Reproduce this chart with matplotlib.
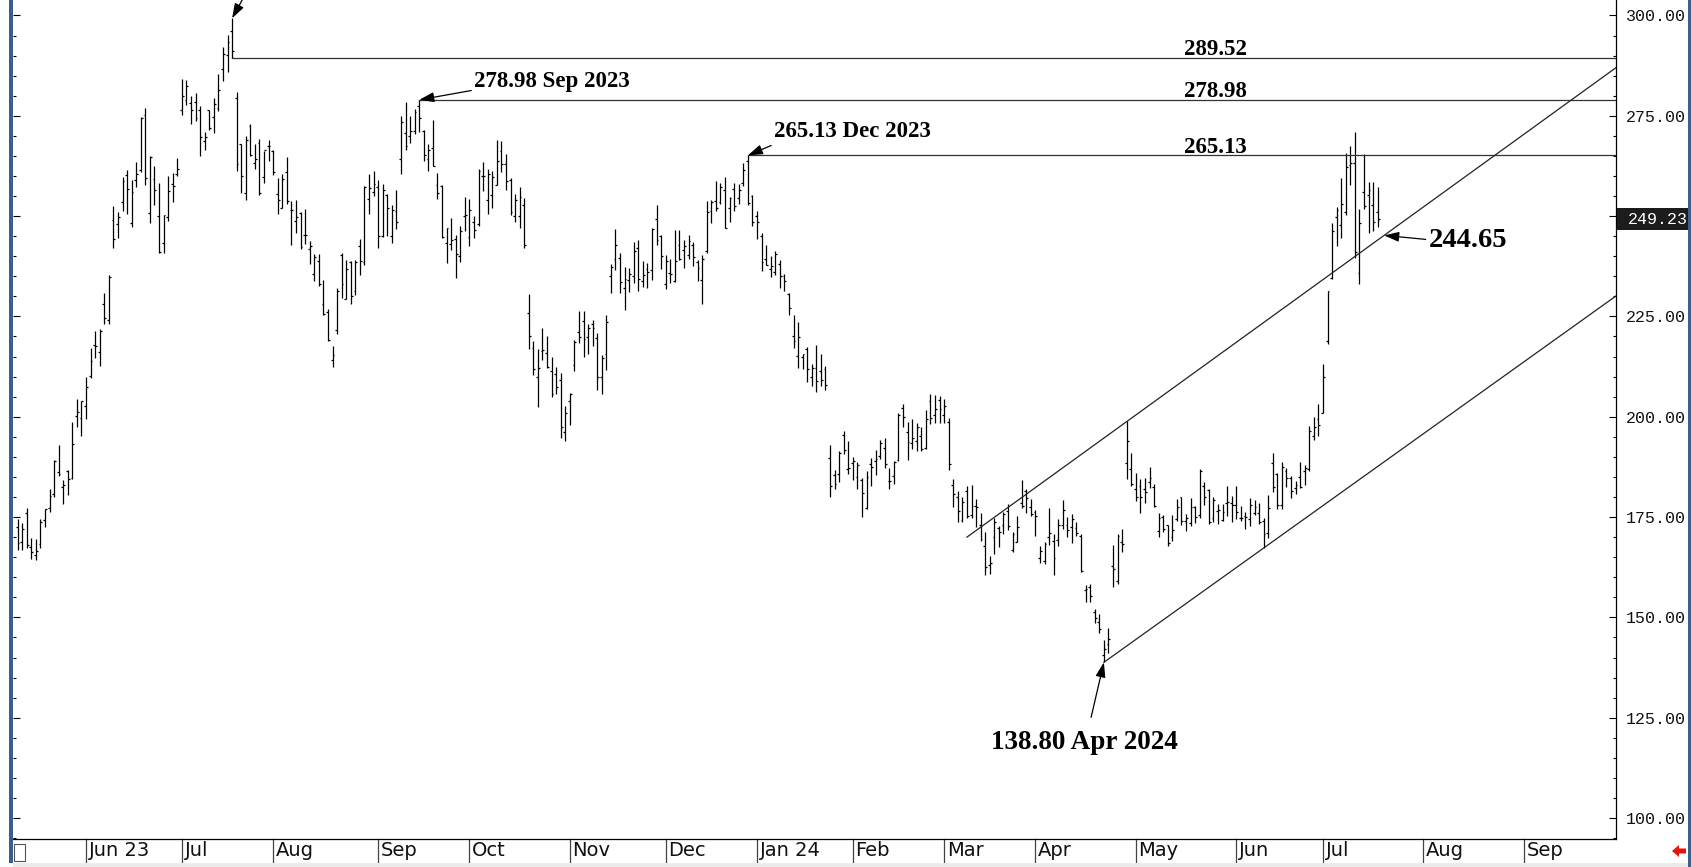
import numpy as np
import pandas as pd
import matplotlib
matplotlib.use('Agg')
import matplotlib.pyplot as plt
from matplotlib.collections import LineCollection
from matplotlib.patches import Rectangle, Polygon
from matplotlib.ticker import MultipleLocator, FormatStrFormatter

# daily bars, 2023-05-10 .. 2024-07-18 (one line per month)
opens = [
    172.55,168.70,176.07,167.66,165.65,168.41,174.22,177.17,180.70,186.20,182.56,186.54,184.62,200.10,199.78,
    202.59,210.15,217.80,216.14,228.00,224.22,249.07,247.94,253.51,260.17,248.40,258.92,261.50,275.13,250.77,259.29,250.07,243.24,249.70,258.03,260.60,
    276.49,278.82,278.09,278.43,276.47,268.65,276.33,274.59,277.01,286.63,290.15,296.04,279.56,268.00,255.85,272.38,263.25,268.31,259.86,267.48,
    266.26,255.57,252.04,260.97,251.45,248.84,250.87,245.40,241.77,235.70,238.73,228.02,226.06,214.12,221.55,240.25,229.34,238.66,231.31,242.58,238.58,254.20,255.98,
    257.26,245.00,255.14,245.07,251.22,264.27,270.76,270.07,271.32,277.55,271.16,264.35,267.04,257.85,257.40,243.38,242.98,244.26,240.02,250.00,
    244.81,248.61,248.14,260.00,253.98,255.31,257.75,266.20,262.92,258.90,250.05,250.10,252.70,225.95,217.01,210.00,216.50,215.88,211.32,210.60,209.28,196.12,
    204.04,212.97,221.15,223.98,219.98,223.15,219.75,210.03,215.60,235.03,239.29,239.49,232.00,234.04,235.04,242.04,233.75,236.89,236.68,249.21,245.14,
    233.14,235.75,233.87,242.92,241.55,240.27,242.74,238.55,234.19,241.22,251.21,253.78,253.48,256.41,251.90,256.76,254.49,258.35,263.66,255.10,
    250.08,244.98,239.25,236.86,236.14,238.11,235.10,230.57,220.08,215.10,214.86,216.88,209.99,212.26,211.30,211.88,189.70,185.50,185.63,195.33,187.00,
    188.50,185.04,184.26,177.21,188.18,189.00,190.18,192.11,183.99,185.30,189.16,202.06,196.13,193.36,194.00,195.31,192.29,204.04,200.42,204.18,
    200.52,198.73,183.05,179.99,174.35,181.50,175.45,177.77,173.05,167.77,163.16,170.02,172.36,173.00,176.39,166.69,168.76,178.58,181.41,177.45,
    176.17,164.75,164.02,170.07,169.08,169.34,172.91,173.04,172.55,172.34,170.24,156.74,157.64,151.25,148.97,140.56,143.33,162.84,158.96,168.85,188.42,186.98,
    182.00,182.86,182.10,183.80,182.40,171.59,175.01,173.05,170.00,174.50,179.90,174.10,173.55,177.56,175.51,182.85,181.80,174.84,176.40,174.19,178.58,178.50,
    178.13,174.78,175.35,174.60,176.13,176.06,173.92,171.12,188.39,185.80,177.92,186.56,184.68,182.30,184.97,186.54,186.92,195.17,199.55,
    201.02,218.89,234.56,249.81,247.71,251.00,262.80,263.30,235.80,255.97,255.31,252.73,251.09,
]
highs = [
    174.43,173.57,177.38,169.76,169.52,174.50,177.06,181.95,189.32,192.96,184.22,186.78,198.60,204.48,203.95,
    209.80,217.25,221.29,221.91,230.83,235.23,252.42,250.97,259.68,261.57,258.95,263.60,274.75,276.99,265.00,262.45,258.37,250.39,259.88,260.74,264.45,
    284.25,283.85,279.97,280.78,277.52,270.90,276.52,279.45,285.30,292.23,295.26,299.29,280.93,268.00,269.85,272.90,268.04,269.13,266.25,269.08,
    266.47,259.52,260.49,264.77,253.65,254.03,251.10,251.80,243.79,240.66,240.50,233.97,226.74,217.58,232.13,240.82,238.98,238.92,239.00,244.38,257.48,260.51,261.18,
    259.08,258.00,255.39,252.81,256.52,274.85,278.39,274.98,276.71,278.98,271.44,267.85,273.93,260.86,257.79,247.10,249.55,245.33,247.55,254.77,
    254.28,250.02,261.86,263.60,261.65,261.36,268.94,268.60,265.41,259.60,255.40,257.18,254.63,230.61,218.86,216.98,222.05,220.10,214.80,212.41,210.88,202.80,
    205.99,219.20,226.37,226.32,223.12,224.15,220.80,215.38,225.40,238.14,246.70,240.88,237.39,237.10,243.62,244.01,238.75,238.33,247.00,252.75,245.22,
    240.19,239.37,246.66,246.57,244.08,245.27,243.44,238.99,240.30,253.88,254.13,258.74,258.34,259.84,254.80,258.22,257.97,263.34,265.13,255.19,
    251.25,245.68,242.70,240.12,241.25,238.96,235.50,230.93,225.34,223.49,215.67,217.45,213.19,217.80,215.65,212.73,193.00,186.78,191.48,196.36,193.97,
    189.88,188.69,184.68,186.49,189.79,191.62,194.12,194.73,187.26,188.89,200.88,203.17,198.60,199.44,198.32,197.57,201.78,205.60,205.30,205.28,
    204.52,199.75,184.59,181.58,180.04,182.73,182.87,179.43,176.05,171.17,165.18,174.72,172.82,176.25,178.18,171.20,175.24,184.25,181.91,179.57,
    176.75,167.69,168.82,177.19,170.86,174.50,179.22,174.93,175.88,173.81,170.69,158.19,158.33,152.20,150.94,144.44,147.26,167.97,170.88,172.12,198.87,190.95,
    185.86,184.60,184.78,187.56,183.26,176.06,175.62,173.06,175.40,179.49,180.00,175.79,179.63,177.75,186.88,183.80,181.90,180.08,178.25,178.15,182.67,180.32,
    182.64,177.76,176.15,179.73,179.35,178.57,174.75,180.55,191.08,186.00,188.81,187.20,185.21,183.95,188.80,188.00,197.76,199.84,203.20,
    213.23,231.30,248.35,252.37,259.44,265.61,267.59,271.00,251.84,265.60,258.62,258.47,257.14,
]
lows = [
    166.68,166.79,167.23,164.55,164.35,167.19,172.45,176.31,180.11,185.26,178.22,180.58,184.53,197.53,195.12,
    199.37,209.75,214.52,212.53,223.20,223.01,242.02,244.59,251.34,250.50,247.29,257.21,261.07,257.78,248.25,252.80,240.70,240.85,248.89,253.61,259.89,
    275.11,277.60,272.88,273.77,265.10,266.37,271.46,270.60,276.31,283.57,286.01,289.52,261.20,255.80,254.12,265.00,261.75,255.30,258.34,263.78,
    260.25,250.49,252.00,253.11,242.76,245.72,241.90,243.13,238.02,233.75,232.61,225.38,218.83,212.36,220.58,229.55,229.29,228.18,230.35,235.35,237.77,250.59,255.05,
    242.01,244.86,245.06,243.27,246.67,260.61,266.60,268.10,270.42,271.00,263.76,261.20,262.46,254.21,244.48,238.31,241.66,234.58,238.65,246.35,
    242.62,244.45,247.60,256.25,250.65,252.05,257.65,260.90,256.63,250.22,248.48,247.08,242.08,216.78,210.42,202.51,214.11,212.20,204.88,205.77,194.67,194.07,
    197.85,211.45,218.40,215.00,215.72,217.64,206.68,205.69,211.61,230.72,236.45,230.96,226.54,231.02,233.34,231.40,232.33,232.10,234.01,242.76,236.91,
    231.90,233.29,233.70,239.17,236.98,239.27,237.45,233.87,228.20,240.79,248.30,251.36,253.01,247.00,248.55,251.37,252.91,257.52,252.71,247.43,
    244.41,236.32,237.73,234.90,235.30,232.04,231.29,225.37,217.15,212.18,212.01,208.74,207.56,206.27,207.75,206.77,180.06,182.10,183.67,190.61,185.85,
    184.28,182.00,175.01,177.11,182.68,185.58,189.48,187.28,182.11,183.35,188.86,197.40,189.13,191.95,191.36,191.50,192.00,198.26,198.44,198.45,
    198.50,186.72,177.57,173.70,173.70,174.70,174.80,172.41,169.15,160.51,160.76,165.90,167.42,170.82,171.80,166.30,168.73,177.38,176.00,175.30,
    170.21,163.43,163.28,168.01,160.51,167.79,171.92,170.01,168.51,170.36,161.38,153.75,153.78,148.70,146.22,138.80,141.11,157.51,158.36,166.37,184.54,182.69,
    179.01,176.02,178.42,182.20,177.40,170.15,171.37,167.75,169.00,174.07,173.11,171.43,172.75,173.52,174.71,178.12,173.26,173.73,173.16,173.93,175.38,173.82,
    174.49,174.00,172.13,172.73,175.58,173.17,167.41,169.80,181.23,176.92,177.00,182.37,179.66,180.69,182.26,182.91,186.36,194.20,195.26,
    200.85,218.06,234.25,242.46,244.57,250.30,257.86,239.65,233.09,251.73,245.80,246.18,247.20,
]
closes = [
    168.54,172.08,167.98,166.35,166.52,173.86,176.89,180.14,188.87,185.77,182.90,184.47,193.17,201.16,203.93,
    207.52,213.97,217.61,221.31,224.57,234.86,244.40,249.83,258.71,256.79,255.90,260.54,274.45,259.46,264.61,256.60,241.05,250.21,256.24,257.50,261.77,
    279.82,282.48,276.54,274.43,269.61,269.79,271.99,277.90,281.38,290.38,293.34,291.26,262.90,260.02,269.06,265.28,264.35,255.71,266.44,267.43,
    261.07,254.11,259.32,253.86,251.45,249.70,242.19,245.34,242.65,239.76,232.96,225.60,219.22,215.49,231.28,233.19,236.86,230.04,238.59,238.82,257.18,256.90,258.08,
    245.01,256.49,251.92,251.49,248.50,273.58,267.48,271.30,276.04,274.39,265.28,266.50,262.59,255.70,244.88,246.99,244.12,240.50,246.38,250.22,
    251.60,246.53,261.16,260.05,260.53,259.67,263.62,262.99,258.87,251.12,253.92,254.85,242.68,220.11,211.99,212.08,216.52,212.42,205.76,207.30,197.36,200.84,
    205.66,218.51,219.96,219.27,222.18,222.11,209.98,214.65,223.71,237.41,242.84,233.59,234.30,235.60,241.20,234.21,235.45,236.08,246.72,244.14,240.08,
    238.83,235.58,238.72,239.37,242.64,243.84,239.74,237.01,239.29,251.05,253.50,252.08,257.22,247.14,254.50,252.54,256.61,261.44,253.18,248.48,
    248.42,238.45,237.93,237.49,240.45,234.96,233.94,227.22,218.89,219.91,215.55,211.88,212.19,208.80,209.14,207.83,182.63,183.25,190.93,191.59,187.29,
    188.86,187.91,181.06,185.10,187.58,189.56,193.57,188.13,184.02,188.71,200.45,199.95,193.76,194.77,197.41,191.97,199.40,199.73,202.04,201.88,
    202.64,188.14,180.74,176.54,178.65,175.34,177.77,177.54,169.48,162.50,163.57,173.80,171.32,175.66,172.82,170.83,172.63,177.67,179.83,175.79,
    175.22,166.63,168.38,171.11,164.90,172.98,176.88,171.76,174.60,171.05,161.48,157.11,155.45,149.93,147.05,142.05,144.68,162.13,170.18,168.29,194.05,183.28,
    179.99,180.01,181.19,184.76,177.81,174.72,171.97,168.47,171.89,177.55,173.99,174.84,177.46,174.95,186.60,180.11,173.74,179.24,176.75,176.19,178.79,178.08,
    176.29,174.77,175.00,177.94,177.48,173.79,170.66,177.29,182.47,178.01,187.44,184.86,181.57,183.01,182.58,187.35,196.37,197.42,197.88,
    209.86,231.26,246.39,251.52,252.94,262.33,263.26,241.03,248.23,252.64,256.56,248.50,249.23,
]

holidays = ['2023-05-29', '2023-06-19', '2023-07-04', '2023-09-04', '2023-11-23',
            '2023-12-25', '2024-01-01', '2024-01-15', '2024-02-19', '2024-03-29',
            '2024-05-27', '2024-06-19', '2024-07-04', '2024-09-02']
month_labels = ['Jun 23', 'Jul', 'Aug', 'Sep', 'Oct', 'Nov', 'Dec', 'Jan 24',
                'Feb', 'Mar', 'Apr', 'May', 'Jun', 'Jul', 'Aug', 'Sep']

# levels marked on the chart
levels = [289.52, 278.98, 265.13]
level_start = ['2023-07-19', '2023-09-15', '2023-12-28']
last_close = 249.23

days = pd.bdate_range('2023-05-10', '2024-09-30')
days = days[~days.isin(pd.to_datetime(holidays))]
pos = pd.Series(np.arange(len(days)), index=days)
month_first = pos.groupby(days.to_period('M')).first().iloc[1:]

n = len(closes)
x = np.arange(n)

W, H = 1691, 867
fig = plt.figure(figsize=(W / 100, H / 100), dpi=100)
ax = fig.add_axes([13 / W, 28 / H, 1603 / W, 839 / H])
ax.set_xlim(-1.0, 350.2)
ax.set_ylim(94.77, 303.86)

segs = []
for i in range(n):
    segs.append([(i, lows[i]), (i, highs[i])])
    segs.append([(i - 0.4, opens[i]), (i, opens[i])])
    segs.append([(i, closes[i]), (i + 0.4, closes[i])])
ax.add_collection(LineCollection(segs, colors='black', linewidths=0.9))

# horizontal levels
for lv, d in zip(levels, level_start):
    ax.plot([pos[pd.Timestamp(d)], 350.2], [lv, lv], color='#333333', lw=0.9)
    ax.text(262.5, lv + 0.7, f'{lv:.2f}', ha='center', va='baseline',
            family='Liberation Serif', weight='bold', fontsize=16.5)

# channel lines
ax.plot([208, 350.2], [170.0, 287.0], color='#222222', lw=0.9)
ax.plot([238, 350.2], [138.8, 230.1], color='#222222', lw=0.9)

arrow = dict(arrowstyle='-|>,head_length=0.9,head_width=0.3', color='black',
             lw=0.9, shrinkA=0, shrinkB=0, mutation_scale=10)
serif = dict(family='Liberation Serif', weight='bold')

ax.annotate('', xy=(47, 299.29), xytext=(50.0, 305.5), arrowprops=arrow,
            annotation_clip=False)
ax.text(100.1, 283.6, '278.98 Sep 2023', ha='left', va='center', fontsize=16.5, **serif)
ax.annotate('', xy=(88, 278.98), xytext=(99.4, 281.3), arrowprops=arrow)
ax.text(165.8, 271.2, '265.13 Dec 2023', ha='left', va='center', fontsize=16.5, **serif)
ax.annotate('', xy=(160, 265.13), xytext=(165.1, 267.6), arrowprops=arrow)
ax.text(233.8, 118.9, '138.80 Apr 2024', ha='center', va='center', fontsize=19.5, **serif)
ax.annotate('', xy=(238, 138.8), xytext=(235.2, 125.1), arrowprops=arrow)
ax.text(309.2, 244.0, '244.65', ha='left', va='center', fontsize=20.5, **serif)
ax.annotate('', xy=(299.4, 245.2), xytext=(308.5, 244.2), arrowprops=arrow)

# axes styling
for s in ['top', 'left']:
    ax.spines[s].set_visible(False)
ax.spines['right'].set_linewidth(0.9)
ax.spines['bottom'].set_linewidth(0.9)
ax.set_xticks([])
ax.yaxis.set_major_locator(MultipleLocator(25))
ax.yaxis.set_minor_locator(MultipleLocator(5))
ax.yaxis.set_major_formatter(FormatStrFormatter('%.2f'))
ax.tick_params(axis='y', which='both', left=True, right=True, labelleft=False,
               labelright=True, direction='in', width=0.8)
ax.tick_params(axis='y', which='major', length=5, pad=7, labelsize=12,
               labelfontfamily='Liberation Mono', labelcolor='#111111')
ax.tick_params(axis='y', which='minor', length=2.5)

# month strip
tr = ax.get_xaxis_transform()
for m, lab in zip(month_first.values, month_labels):
    ax.plot([m, m], [0, -23 / 839], transform=tr, color='#444444', lw=0.9, clip_on=False)
    ax.text(m + 0.6, -12 / 839, lab, transform=tr, ha='left', va='center',
            fontsize=14, family='DejaVu Sans', color='#111111')

# window decorations
def px(x0, y0):
    return (x0 / W, 1 - y0 / H)

fig.add_artist(Rectangle(px(9, 863), 4 / W, 863 / H, transform=fig.transFigure,
                         fc='#3b5e8c', ec='none'))
fig.add_artist(Rectangle(px(1688, 867), 3 / W, 867 / H, transform=fig.transFigure,
                         fc='#3b5e8c', ec='none'))
fig.add_artist(Rectangle(px(13, 867), 1675 / W, 4 / H, transform=fig.transFigure,
                         fc='#ececec', ec='none'))
fig.add_artist(Rectangle(px(14, 861), 11 / W, 17 / H, transform=fig.transFigure,
                         fc='white', ec='#555555', lw=0.8))
fig.add_artist(Polygon([px(1672, 851), px(1679, 845), px(1679, 848.5), px(1686, 848.5),
                        px(1686, 853.5), px(1679, 853.5), px(1679, 857)],
                       closed=True, transform=fig.transFigure, fc='#e8140c', ec='none'))

# last price box
fig.add_artist(Rectangle(px(1617, 230), 71 / W, 22 / H, transform=fig.transFigure,
                         fc='#1c1c1c', ec='none'))
fig.text(1628 / W, 1 - 219 / H, f'{last_close:.2f}', ha='left', va='center',
         color='white', fontsize=12, family='Liberation Mono')

fig.savefig('out.png', dpi=100, facecolor='white')
